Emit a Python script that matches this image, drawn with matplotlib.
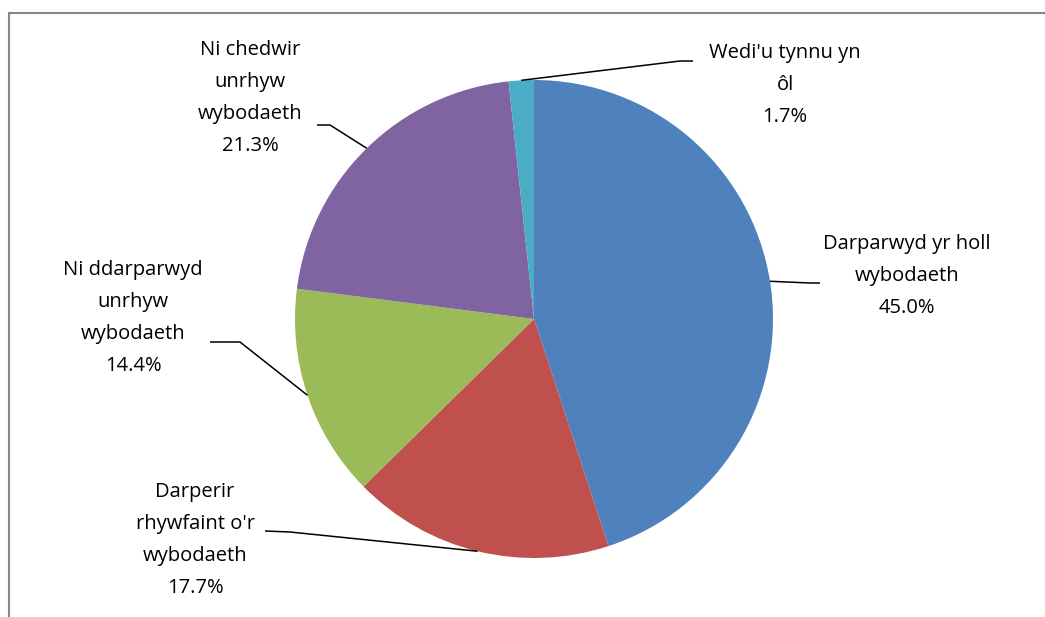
import matplotlib
matplotlib.use("Agg")
import matplotlib.pyplot as plt
import numpy as np
from matplotlib.patches import Rectangle

categories = ["Darparwyd yr holl\nwybodaeth", "Darperir\nrhywfaint o'r\nwybodaeth",
              "Ni ddarparwyd\nunrhyw\nwybodaeth", "Ni chedwir\nunrhyw\nwybodaeth",
              "Wedi'u tynnu yn\nôl"]
values = [45.0, 17.7, 14.4, 21.3, 1.7]
colors = ["#4F81BD", "#C0504D", "#9BBB59", "#8064A2", "#4BACC6"]

W, H = 1045, 617
fig = plt.figure(figsize=(W / 100, H / 100), dpi=100)
fig.patch.set_facecolor("white")

# border (top & left visible)
fig.add_artist(Rectangle((9 / W, -0.1), 1.2, (H - 13) / H + 0.1, transform=fig.transFigure,
                         fill=False, edgecolor="#868686", linewidth=1.5))

cx, cy, R = 534, 319, 239
ax = fig.add_axes([(cx - R) / W, (H - cy - R) / H, 2 * R / W, 2 * R / H])

wedges, _ = ax.pie(values, colors=colors, startangle=90, counterclock=False, radius=1,
                   wedgeprops=dict(linewidth=0))
ax.set_xlim(-1, 1)
ax.set_ylim(-1, 1)
ax.set_aspect("equal")
ax.axis("off")

def px2d(px, py):
    return ((px - cx) / R, (cy - py) / R)

# label centers (pixels) and leader elbow/end points (pixels)
label_pos = [(907, 276), (195, 540), (133, 318), (250, 98), (785, 85)]
elbows = [((810, 283), (820, 283)), ((290, 532), (265, 531)), ((240, 342), (210, 342)),
          ((330, 125), (317, 125)), ((680, 61), (693, 61))]

for w, cat, v, lp, (e1, e2) in zip(wedges, categories, values, label_pos, elbows):
    ang = np.deg2rad((w.theta1 + w.theta2) / 2)
    x0, y0 = np.cos(ang), np.sin(ang)
    p1 = px2d(*e1)
    p2 = px2d(*e2)
    ax.plot([x0, p1[0], p2[0]], [y0, p1[1], p2[1]], color="black", lw=1.1,
            clip_on=False, solid_capstyle="butt")
    tx, ty = px2d(*lp)
    ax.text(tx, ty, f"{cat}\n{v:.1f}%", ha="center", va="center", fontsize=14.5,
            family=["Open Sans", "DejaVu Sans"], linespacing=1.8, clip_on=False)

fig.savefig("out.png", dpi=100)
